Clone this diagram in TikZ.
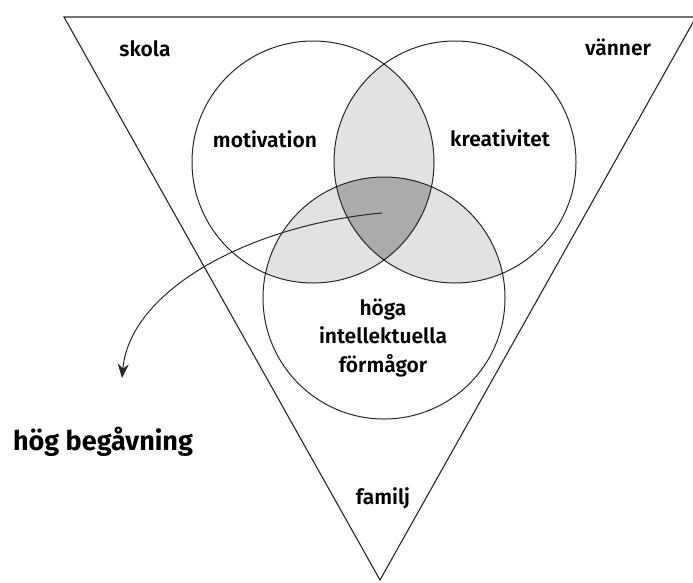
\documentclass[tikz,border=0pt]{standalone}
\usepackage{fontspec}
\setmainfont{Fira Sans}[BoldFont={Fira Sans SemiBold}]
\newfontfamily\heavyfont{Fira Sans Bold}
\usetikzlibrary{arrows.meta}

\begin{document}
\begin{tikzpicture}[x=1pt,y=-1pt]
                \tikzstyle{every node}= [font=\bfseries\fontsize{21}{27}\selectfont, inner sep=0pt, anchor=base]
                \tikzstyle{ring}= [draw=black!85, line width=1pt]
                \tikzstyle{lens}= [fill=gray!23]
                \tikzstyle{core}= [fill=gray!66]
                \useasboundingbox (0,0) rectangle (693,582);

                % circle centres and the funnel
                \coordinate (m) at (313,162);
                \coordinate (k) at (455,162);
                \coordinate (f) at (384,298);
                \coordinate (tl) at (64,17);
                \coordinate (tr) at (696,17);
                \coordinate (bot) at (380,580);

                \begin{scope}
                  \clip (m) circle (121pt);
                  \fill[lens] (k) circle (121pt);
                  \fill[lens] (f) circle (121pt);
                \end{scope}
                \begin{scope}
                  \clip (k) circle (121pt);
                  \fill[lens] (f) circle (121pt);
                \end{scope}
                \begin{scope}
                  \clip (m) circle (121pt);
                  \clip (k) circle (121pt);
                  \fill[core] (f) circle (121pt);
                \end{scope}

                \draw[ring] (m) circle (121pt);
                \draw[ring] (k) circle (121pt);
                \draw[ring] (f) circle (121pt);
                \draw[draw=black!85, line width=1.1pt] (tl) -- (tr) -- (bot) -- cycle;

                \node (skola) at (145,56) {skola};
                \node (vanner) at (618,55) {vänner};
                \node (motiv) at (265,147) {motivation};
                \node (kreat) at (500,146) {kreativitet};
                \node (hoga) at (383,315) {höga};
                \node (intel) at (383,343) {intellektuella};
                \node (form) at (383,372) {förmågor};
                \node (familj) at (383,504) {familj};
                \node (begavn) [font=\heavyfont\fontsize{27}{32}\selectfont] at (103,450) {hög begåvning};

                \coordinate (start) at (382,213);
                \coordinate (tip) at (122,378);
                \draw[black!85, line width=1pt, -{Stealth[length=14pt,width=11pt]}] (start) .. controls (250,225) and (130,290) .. (tip);
\end{tikzpicture}
\end{document}
